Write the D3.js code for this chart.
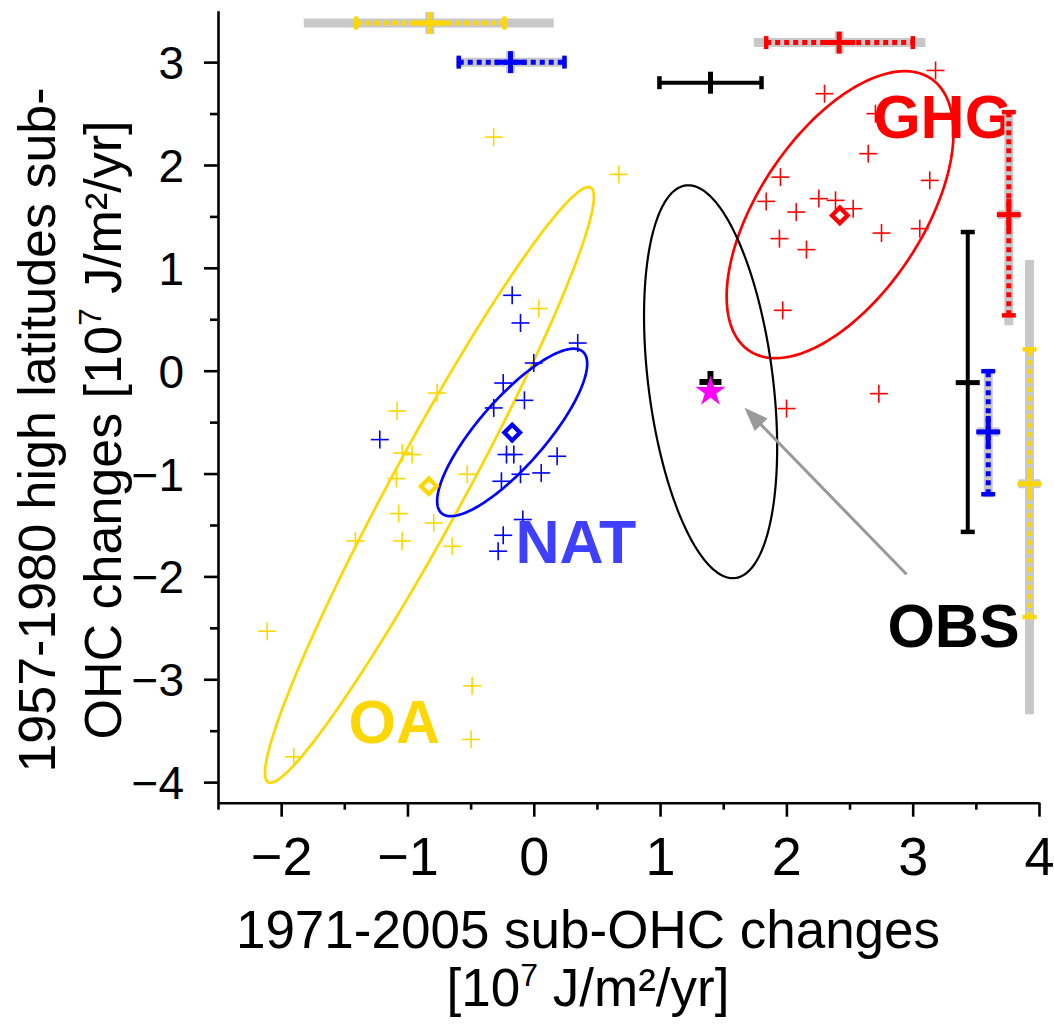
<!DOCTYPE html>
<html><head><meta charset="utf-8">
<script src="https://cdn.jsdelivr.net/npm/d3@7"></script>
<style>body{margin:0;background:#fff}svg{display:block}</style>
</head><body><svg id="c" width="1054" height="1025"></svg>
<script>
const FONT = '"Liberation Sans", Arial, Helvetica, sans-serif';

// ---------- axes ----------
const xTicks = [-2, -1, 0, 1, 2, 3, 4];
const xMinor = [-2.5, -1.5, -0.5, 0.5, 1.5, 2.5, 3.5];
const yTicks = [-4, -3, -2, -1, 0, 1, 2, 3];
const yMinor = [-3.5, -2.5, -1.5, -0.5, 0.5, 1.5, 2.5];

// ---------- model members ----------
const oaX = [-0.317, 0.673, 0.040, -0.765, -1.082, -1.042, -0.963, -1.087, -0.527, -1.069, -0.792, -1.412, -1.042, -0.646, -2.111, -0.488, -1.900, -0.496];
const oaY = [2.271, 1.909, 0.604, -0.217, -0.392, -0.800, -0.815, -1.049, -1.007, -1.389, -1.480, -1.655, -1.655, -1.707, -2.533, -3.064, -3.754, -3.585];
const natX = [-0.171, -0.105, 0.348, 0.000, -0.242, -0.074, -0.317, -1.219, -0.216, -0.158, 0.185, -0.105, 0.059, -0.256, -0.087, -0.242, -0.282];
const natY = [0.733, 0.464, 0.269, 0.075, -0.120, -0.288, -0.362, -0.670, -0.815, -0.815, -0.832, -1.007, -0.994, -1.075, -1.447, -1.600, -1.755];
const ghgX = [3.181, 2.302, 2.705, 2.648, 3.135, 1.953, 1.840, 2.257, 2.389, 2.529, 2.078, 2.753, 3.056, 1.945, 2.159, 1.971, 2.732, 2.001];
const ghgY = [2.919, 2.693, 2.499, 2.110, 1.850, 1.882, 1.646, 1.673, 1.656, 1.575, 1.542, 1.338, 1.381, 1.284, 1.177, 0.587, -0.223, -0.368];

const groupNames = ["OA", "NAT", "GHG"];
const groupColors = ["#FFD700", "#0000FF", "#FF0000"];
const meanX = [-0.831, -0.171, 2.423];
const meanY = [-1.123, -0.602, 1.510];

// observations
const obsX = 1.399, obsY = -0.110;
const obsStarY = -0.205;

// ---------- ellipses (centre, half-extents, correlation) ----------
const ellNames = ["OA", "NAT", "GHG", "OBS"];
const ellColors = ["#FFD700", "#0000FF", "#FF0000", "#000000"];
const ellCX = [-0.826, -0.171, 2.425, 1.400];
const ellCY = [-1.110, -0.600, 1.517, -0.107];
const ellSX = [1.302, 0.594, 0.898, 0.527];
const ellSY = [2.896, 0.814, 1.395, 1.910];
const ellRho = [0.967, 0.820, 0.570, -0.334];

// ---------- error bars ----------
// horizontal bars (x spread), drawn at row hRow
const hName = ["OA", "GHG", "NAT", "OBS"];
const hRow = [3.38, 3.19, 3.00, 2.80];
const hMid = [-0.823, 2.418, -0.184, 1.399];
const hLo = [-1.406, 1.840, -0.594, 0.995];
const hHi = [-0.232, 3.001, 0.243, 1.803];
const hOutLo = [-1.821, 1.742, -0.614, null];
const hOutHi = [0.158, 3.101, 0.264, null];
// vertical bars (y spread), drawn at column vCol
const vName = ["OBS", "NAT", "GHG", "OA"];
const vCol = [3.436, 3.598, 3.761, 3.925];
const vMid = [-0.116, -0.595, 1.517, -1.099];
const vLo = [-1.567, -1.201, 0.538, -2.395];
const vHi = [1.348, -0.005, 2.514, 0.208];
const vOutLo = [null, -1.230, 0.441, -3.339];
const vOutHi = [null, 0.020, 2.530, 1.077];

// ---------- labels ----------
const lblText = ["GHG", "NAT", "OA", "OBS"];
const lblX = [2.687, -0.145, -1.467, 2.800];
const lblY = [2.258, -1.872, -3.621, -2.688];
const lblColor = ["#FF0000", "#3F3FFF", "#FFD700", "#000000"];
const arrowFrom = [2.951, -1.979];
const arrowTo = [1.668, -0.359];

// =====================================================
const colorOf = n => ({OA: "#FFD700", NAT: "#0000FF", GHG: "#FF0000", OBS: "#000000"})[n];
const svg = d3.select("#c");
const x = d3.scaleLinear().domain([-2.5, 4]).range([218, 1039]);
const y = d3.scaleLinear().domain([-4.2, 3.5]).range([802.7, 10.7]);

// axes
const gx = svg.append("g").attr("transform", "translate(0,802.7)");
gx.call(d3.axisBottom(x).tickValues(xTicks).tickSize(14).tickSizeOuter(0).tickPadding(20)
  .tickFormat(d => d < 0 ? "\u2212" + Math.abs(d) : d));
gx.append("g").call(d3.axisBottom(x).tickValues(xMinor).tickSize(7).tickFormat(""))
  .select(".domain").remove();
const gy = svg.append("g").attr("transform", "translate(218,0)");
gy.call(d3.axisLeft(y).tickValues(yTicks).tickSize(14).tickSizeOuter(0).tickPadding(20)
  .tickFormat(d => d < 0 ? "\u2212" + Math.abs(d) : d));
gy.append("g").call(d3.axisLeft(y).tickValues(yMinor).tickSize(8).tickFormat(""))
  .select(".domain").remove();
svg.selectAll(".domain, .tick line").attr("stroke", "#000").attr("stroke-width", 2.6);
gx.selectAll(".tick text").attr("font-family", FONT).attr("font-size", 54).attr("fill", "#000");
gy.selectAll(".tick text").attr("font-family", FONT).attr("font-size", 46).attr("fill", "#000").attr("dy", "0.36em");

// axis titles
const xt = svg.append("text").attr("font-family", FONT).attr("font-size", 53).attr("text-anchor", "middle");
xt.append("tspan").attr("x", 588).attr("y", 948).text("1971-2005 sub-OHC changes");
const xt2 = xt.append("tspan").attr("x", 588).attr("y", 1006);
xt2.append("tspan").text("[10");
xt2.append("tspan").attr("font-size", 32).attr("dy", -20).text("7");
xt2.append("tspan").attr("dy", 20).text(" J/m\u00B2/yr]");

const yt = svg.append("text").attr("font-family", FONT).attr("font-size", 52).attr("text-anchor", "middle")
  .attr("transform", "translate(0,430) rotate(-90)");
yt.append("tspan").attr("x", 0).attr("y", 55).text("1957-1980 high latitudes sub-");
const yt2 = yt.append("tspan").attr("x", 0).attr("y", 121);
yt2.append("tspan").text("OHC changes [10");
yt2.append("tspan").attr("font-size", 32).attr("dy", -20).text("7");
yt2.append("tspan").attr("dy", 20).text(" J/m\u00B2/yr]");

// ellipses
const ellLine = d3.line().curve(d3.curveLinearClosed);
ellNames.forEach((n, i) => {
  const pts = d3.range(0, 360, 2).map(a => {
    const t = a * Math.PI / 180;
    const dx = ellSX[i] * Math.cos(t);
    const dy = ellSY[i] * (ellRho[i] * Math.cos(t) + Math.sqrt(1 - ellRho[i] ** 2) * Math.sin(t));
    return [x(ellCX[i] + dx), y(ellCY[i] + dy)];
  });
  svg.append("path").attr("d", ellLine(pts)).attr("fill", "none")
    .attr("stroke", ellColors[i]).attr("stroke-width", n === "OBS" ? 2.2 : 2.7);
});

// member points
const plus = (g, px, py, r, col, w) => {
  g.append("line").attr("x1", px - r).attr("x2", px + r).attr("y1", py).attr("y2", py)
    .attr("stroke", col).attr("stroke-width", w);
  g.append("line").attr("x1", px).attr("x2", px).attr("y1", py - r).attr("y2", py + r)
    .attr("stroke", col).attr("stroke-width", w);
};
const members = [[oaX, oaY], [natX, natY], [ghgX, ghgY]];
const gp = svg.append("g");
members.forEach(([xs, ys], gi) => {
  xs.forEach((v, k) => plus(gp, x(v), y(ys[k]), 9, groupColors[gi], 1.6));
});

// labels
const gl = svg.append("g");
lblText.forEach((t, i) => {
  gl.append("text").attr("x", x(lblX[i])).attr("y", y(lblY[i])).attr("font-family", FONT)
    .attr("font-weight", "bold").attr("font-size", 61).attr("fill", lblColor[i]).text(t);
});

// error bars
const gb = svg.append("g");
const seg = (x1, y1, x2, y2, col, w, dash) => {
  const l = gb.append("line").attr("x1", x1).attr("y1", y1).attr("x2", x2).attr("y2", y2)
    .attr("stroke", col).attr("stroke-width", w);
  if (dash) l.attr("stroke-dasharray", dash);
  return l;
};
hName.forEach((n, i) => {
  const yy = y(hRow[i]), col = colorOf(n);
  const obs = n === "OBS";
  if (!obs) {
    seg(x(hOutLo[i]), yy, x(hOutHi[i]), yy, "#C8C8C8", 9);
    seg(x(hMid[i]), yy - 11, x(hMid[i]), yy + 11, "#C8C8C8", 9);
    seg(x(hLo[i]), yy, x(hHi[i]), yy, col, 5, "5 4");
    seg(x(hMid[i]) - 16, yy, x(hMid[i]) + 16, yy, col, 5);
    seg(x(hMid[i]), yy - 11, x(hMid[i]), yy + 11, col, 5);
  } else {
    seg(x(hLo[i]), yy, x(hHi[i]), yy, col, 4);
    seg(x(hMid[i]), yy - 11, x(hMid[i]), yy + 11, col, 5);
  }
  seg(x(hLo[i]), yy - 6.5, x(hLo[i]), yy + 6.5, col, 4.5);
  seg(x(hHi[i]), yy - 6.5, x(hHi[i]), yy + 6.5, col, 4.5);
});
vName.forEach((n, i) => {
  const xx = x(vCol[i]), col = colorOf(n);
  const obs = n === "OBS";
  if (!obs) {
    seg(xx, y(vOutLo[i]), xx, y(vOutHi[i]), "#C8C8C8", 9);
    seg(xx - 11, y(vMid[i]), xx + 11, y(vMid[i]), "#C8C8C8", 9);
    seg(xx, y(vLo[i]), xx, y(vHi[i]), col, 5, "5 4");
    seg(xx, y(vMid[i]) - 16, xx, y(vMid[i]) + 16, col, 5);
    seg(xx - 12, y(vMid[i]), xx + 12, y(vMid[i]), col, 5);
  } else {
    seg(xx, y(vLo[i]), xx, y(vHi[i]), col, 4);
    seg(xx - 12, y(vMid[i]), xx + 12, y(vMid[i]), col, 5);
  }
  seg(xx - 7, y(vLo[i]), xx + 7, y(vLo[i]), col, 4.5);
  seg(xx - 7, y(vHi[i]), xx + 7, y(vHi[i]), col, 4.5);
});

// ensemble means (diamonds)
groupNames.forEach((n, i) => {
  const px = x(meanX[i]), py = y(meanY[i]), r = 7.8;
  svg.append("path").attr("d", `M${px},${py - r}L${px + r},${py}L${px},${py + r}L${px - r},${py}Z`)
    .attr("fill", "none").attr("stroke", groupColors[i]).attr("stroke-width", 4.3);
});

// observation
plus(svg, x(obsX), y(obsY), 11, "#000", 6);
const star = d3.range(10).map(k => {
  const R = k % 2 === 0 ? 16 : 6, a = -Math.PI / 2 + k * Math.PI / 5;
  return [x(obsX) + R * Math.cos(a), y(obsStarY) + R * Math.sin(a)];
});
svg.append("path").attr("d", d3.line()(star) + "Z").attr("fill", "#FF00FF");

// arrow
const ax1 = x(arrowFrom[0]), ay1 = y(arrowFrom[1]), ax2 = x(arrowTo[0]), ay2 = y(arrowTo[1]);
const L = Math.hypot(ax2 - ax1, ay2 - ay1), ux = (ax2 - ax1) / L, uy = (ay2 - ay1) / L;
const hl = 24, hw = 9;
svg.append("line").attr("x1", ax1).attr("y1", ay1).attr("x2", ax2 - ux * hl * 0.8).attr("y2", ay2 - uy * hl * 0.8)
  .attr("stroke", "#999").attr("stroke-width", 3);
svg.append("path").attr("d",
  `M${ax2},${ay2}L${ax2 - ux * hl - uy * hw},${ay2 - uy * hl + ux * hw}L${ax2 - ux * hl + uy * hw},${ay2 - uy * hl - ux * hw}Z`)
  .attr("fill", "#999");
</script></body></html>
